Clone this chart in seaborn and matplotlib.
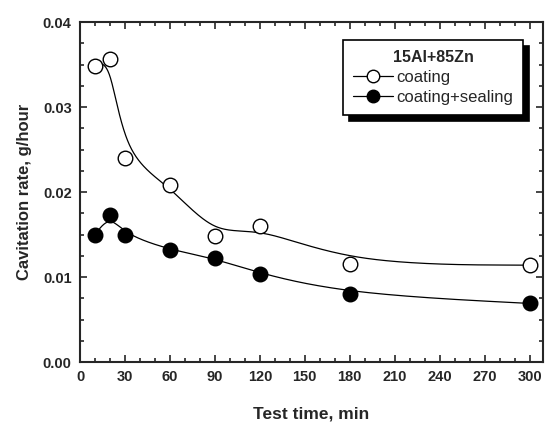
import numpy as np
import pandas as pd
import matplotlib
matplotlib.use('Agg')
import matplotlib.pyplot as plt
import seaborn as sns
from matplotlib.lines import Line2D
from matplotlib.ticker import MultipleLocator, FormatStrFormatter

# dados
tempo = [10, 20, 30, 60, 90, 120, 180, 300]
coating = [0.0348, 0.0357, 0.0240, 0.0208, 0.0148, 0.0160, 0.0115, 0.0114]
sealing = [0.0150, 0.0173, 0.0150, 0.0132, 0.0122, 0.0104, 0.0080, 0.0069]


def bspline(xs, ys, n=60):
    # B-spline cúbica uniforme com extremidades repetidas
    px = np.r_[[xs[0]] * 2, xs, [xs[-1]] * 2]
    py = np.r_[[ys[0]] * 2, ys, [ys[-1]] * 2]
    t = np.linspace(0, 1, n)
    b0 = (1 - t) ** 3 / 6
    b1 = (3 * t ** 3 - 6 * t ** 2 + 4) / 6
    b2 = (-3 * t ** 3 + 3 * t ** 2 + 3 * t + 1) / 6
    b3 = t ** 3 / 6
    ox, oy = [], []
    for i in range(len(px) - 3):
        ox.append(b0 * px[i] + b1 * px[i + 1] + b2 * px[i + 2] + b3 * px[i + 3])
        oy.append(b0 * py[i] + b1 * py[i + 1] + b2 * py[i + 2] + b3 * py[i + 3])
    return np.concatenate(ox), np.concatenate(oy)


sns.set_style('ticks')
plt.rcParams['font.family'] = ['Liberation Sans', 'DejaVu Sans']

fig = plt.figure(figsize=(5.48, 4.24), dpi=100)
ax = fig.add_axes([0.146, 0.146, 0.845, 0.802])

for ys, face in [(coating, 'white'), (sealing, 'black')]:
    cx, cy = bspline(tempo, ys)
    curva = pd.DataFrame({'x': cx, 'y': cy})
    sns.lineplot(data=curva, x='x', y='y', sort=False, color='black', lw=0.9, ax=ax)
    pts = pd.DataFrame({'x': tempo, 'y': ys})
    sns.scatterplot(data=pts, x='x', y='y', s=110, facecolor=face, edgecolor='black',
                    linewidth=1.0, zorder=3, ax=ax)

ax.set_xlim(0, 309)
ax.set_ylim(0, 0.04)
ax.xaxis.set_major_locator(MultipleLocator(30))
ax.xaxis.set_minor_locator(MultipleLocator(10))
ax.yaxis.set_major_locator(MultipleLocator(0.01))
ax.yaxis.set_minor_locator(MultipleLocator(0.0025))
ax.yaxis.set_major_formatter(FormatStrFormatter('%.2f'))
ax.tick_params(which='both', direction='in', top=True, right=True, width=1.2)
ax.tick_params(which='major', length=5, labelsize=10.5, pad=6)
ax.tick_params(which='minor', length=3)
for lab in ax.get_xticklabels() + ax.get_yticklabels():
    lab.set_fontweight('bold')
for s in ax.spines.values():
    s.set_linewidth(1.5)

ax.set_xlabel('Test time, min', fontsize=12.5, fontweight='bold', labelpad=16)
ax.set_ylabel('Cavitation rate, g/hour', fontsize=12, fontweight='bold', labelpad=8)

handles = [
    Line2D([], [], color='black', lw=0.9, marker='o', ms=9, mfc='white', mec='black'),
    Line2D([], [], color='black', lw=0.9, marker='o', ms=9, mfc='black', mec='black'),
]
leg = ax.legend(handles, ['coating', 'coating+sealing'], title='15Al+85Zn',
                loc='upper left', bbox_to_anchor=(343 / 548, 1 - 40 / 424),
                bbox_transform=fig.transFigure, fontsize=12, title_fontsize=11.5,
                fancybox=False, edgecolor='black', framealpha=1,
                shadow={'color': 'black', 'alpha': 1, 'ox': 4.5, 'oy': -4.5},
                handlelength=2.4, handletextpad=0.2, borderpad=0.6,
                borderaxespad=0, labelspacing=0.3)
leg.get_title().set_fontweight('bold')
leg.get_frame().set_linewidth(1.2)

plt.savefig('out.png', dpi=100)
